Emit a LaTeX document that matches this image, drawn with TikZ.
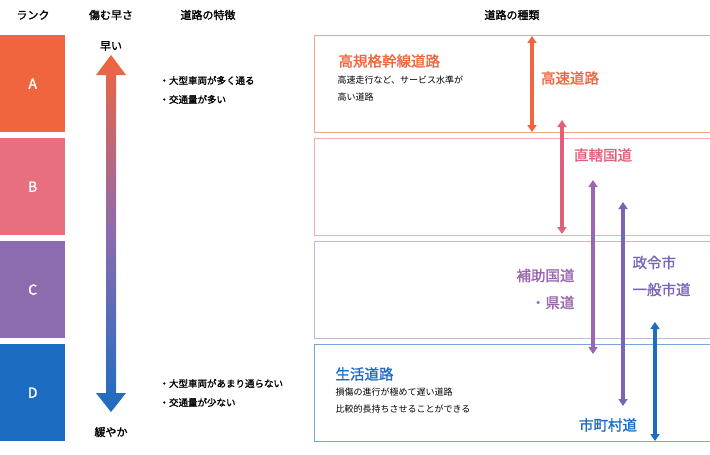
\documentclass[tikz,border=0pt]{standalone}
\usepackage{fontspec}
\setmainfont{Noto Sans CJK JP}
\newfontfamily\jb[FakeBold=1.5]{Noto Sans CJK JP}
\usetikzlibrary{arrows.meta}
\definecolor{cA}{HTML}{F0653D}
\definecolor{cB}{HTML}{E8707E}
\definecolor{cC}{HTML}{8C6BAE}
\definecolor{cD}{HTML}{1B6CC2}
\definecolor{aB}{HTML}{E0607A}
\definecolor{aC}{HTML}{9A66B0}
\definecolor{aC2}{HTML}{7A63B8}
\begin{document}
\begin{tikzpicture}[x=1pt,y=-1pt,
 rank/.style={minimum width=65pt,minimum height=97pt,anchor=north west,inner sep=0,text=white,font=\jb\fontsize{14}{14}\selectfont},
 hdr/.style={font=\jb\fontsize{11}{11}\selectfont},
 tbox/.style={minimum width=396pt,minimum height=97pt,anchor=north west,inner sep=0,line width=0.8pt},
 big/.style={font=\jb\fontsize{14.5}{27}\selectfont,align=left},
 small/.style={font=\fontsize{9}{17}\selectfont,align=left,anchor=north west},
 feat/.style={font=\jb\fontsize{9.5}{19}\selectfont,align=left,anchor=west},
 dar/.style={{Triangle[width=9pt,length=7pt]}-{Triangle[width=9pt,length=7pt]},line width=3.5pt}]
\useasboundingbox (0,0) rectangle (710,455);
\fill[white] (0,0) rectangle (710,455);
\node[hdr] (h1) at (33,15) {ランク};
\node[hdr] (h2) at (111,15) {傷む早さ};
\node[hdr] (h3) at (208,15) {道路の特徴};
\node[hdr] (h4) at (512,15) {道路の種類};
\node[rank,fill=cA] (A) at (0,35) {A};
\node[rank,fill=cB] (B) at (0,138) {B};
\node[rank,fill=cC] (C) at (0,241) {C};
\node[rank,fill=cD] (D) at (0,344) {D};
\shade[top color=cA,bottom color=cD,middle color=cC]
 (111,55) -- (126,75) -- (116,75) -- (116,393) -- (126,393) -- (111,412) -- (96,393) -- (106,393) -- (106,75) -- (96,75) -- cycle;
\node[hdr] (fast) at (111,46) {早い};
\node[hdr] (slow) at (111,432) {緩やか};
\node[feat] (f1) at (156,90) {・大型車両が多く通る\\・交通量が多い};
\node[feat] (f2) at (156,393) {・大型車両があまり通らない\\・交通量が少ない};
\node[tbox,draw=cA!60] (TA) at (314,35) {};
\node[tbox,draw=cB!60] (TB) at (314,138) {};
\node[tbox,draw=cC!50] (TC) at (314,241) {};
\node[tbox,draw=cD!60] (TD) at (314,344) {};
\node[big,text=cA,anchor=west] (k1) at (335,61) {高規格幹線道路};
\node[small] (k1s) at (334,72) {高速走行など、サービス水準が\\高い道路};
\node[big,text=cD,anchor=west] (s1) at (332,374) {生活道路};
\node[small] (s1s) at (332,384) {損傷の進行が極めて遅い道路\\比較的長持ちさせることができる};
\coordinate (a1t) at (532,36); \coordinate (a1b) at (532,132);
\coordinate (a2t) at (562,120); \coordinate (a2b) at (562,234);
\coordinate (a3t) at (593,180); \coordinate (a3b) at (593,354);
\coordinate (a4t) at (623,202); \coordinate (a4b) at (623,406);
\coordinate (a5t) at (655,322); \coordinate (a5b) at (655,441);
\draw[dar,cA] (a1t) -- (a1b);
\draw[dar,aB] (a2t) -- (a2b);
\draw[dar,aC] (a3t) -- (a3b);
\draw[dar,aC2] (a4t) -- (a4b);
\draw[dar,cD] (a5t) -- (a5b);
\node[big,text=cA] (l1) at (570,78) {高速道路};
\node[big,text=aB] (l2) at (603,155) {直轄国道};
\node[big,text=aC,align=right,anchor=east] (l3) at (578,289) {補助国道\\・県道};
\node[big,text=aC2,align=left,anchor=west] (l4) at (629,276) {政令市\\一般市道};
\node[big,text=cD] (l5) at (608,425) {市町村道};
\end{tikzpicture}
\end{document}
